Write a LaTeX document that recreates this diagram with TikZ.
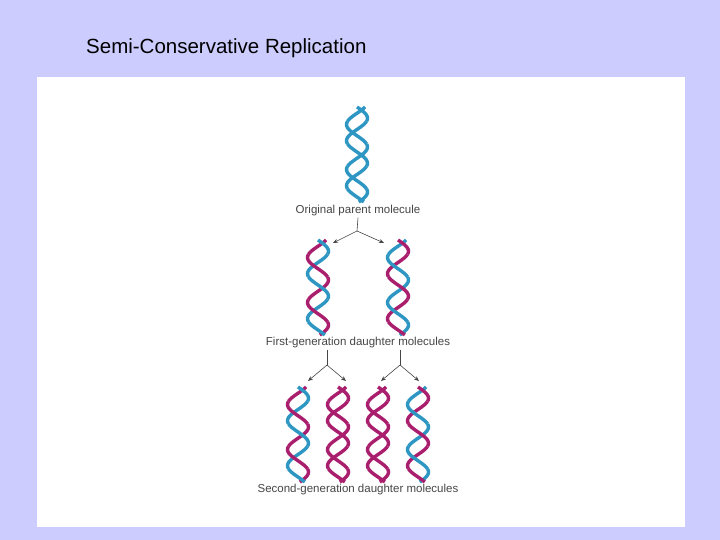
\documentclass[tikz,border=0pt]{standalone}
\usepackage{fontspec}
\setmainfont{Liberation Sans}
\usetikzlibrary{arrows.meta}
\definecolor{bg}{RGB}{204,204,255}
\definecolor{dnab}{RGB}{45,150,195}
\definecolor{dnam}{RGB}{170,30,110}
\definecolor{lbl}{RGB}{70,70,70}
\newcommand{\strandseg}[5]{% cx, ytop, phase, color, k
  \pgfmathsetmacro{\da}{max(0,(#5-0.5)*22.5+3.1)}%
  \pgfmathsetmacro{\db}{min(95,(#5+0.5)*22.5+3.1)}%
  \draw[#4,line width=3.4pt,domain=\da:\db,samples=14,variable=\t,shift={(#1,-#2)}]
    plot ({10.5*sin(8*\t+#3)},{-\t});}
\newcommand{\myhelix}[4]{% cx, ytop, colorA, colorB
  \foreach \k in {0,...,4}{%
    \pgfmathtruncatemacro{\hpar}{mod(\k,2)}%
    \ifnum\hpar=0
      \strandseg{#1}{#2}{130}{#4}{\k}\strandseg{#1}{#2}{0}{#3}{\k}%
    \else
      \strandseg{#1}{#2}{0}{#3}{\k}\strandseg{#1}{#2}{130}{#4}{\k}%
    \fi}}
\tikzset{lab/.style={text=lbl,font=\fontsize{11.5}{13}\selectfont,inner sep=1pt},
  arr/.style={-{Stealth[length=5pt,width=4pt]},line width=0.6pt,lbl}}
\begin{document}
\begin{tikzpicture}[x=1pt,y=1pt]
\fill[bg] (0,0) rectangle (720,-540);
\useasboundingbox (0,0) rectangle (720,-540);
\fill[white] (37,-77) rectangle (685,-527);
\node[anchor=west,font=\fontsize{20.5}{24}\selectfont,inner sep=0pt] (title) at (86,-48) {Semi-Conservative Replication};
\myhelix{357}{107}{dnab}{dnab}
\myhelix{318}{240}{dnab}{dnam}
\myhelix{398}{240}{dnam}{dnab}
\myhelix{298}{387}{dnab}{dnam}
\myhelix{338}{387}{dnam}{dnam}
\myhelix{378}{387}{dnam}{dnam}
\myhelix{418}{387}{dnam}{dnab}
\node[lab] (l1) at (358,-211) {Original parent molecule};
\node[lab] (l2) at (358,-343) {First-generation daughter molecules};
\node[lab] (l3) at (358,-490) {Second-generation daughter molecules};
\coordinate (s1) at (357,-231);
\coordinate (s2) at (327,-365);
\coordinate (s3) at (400,-365);
\coordinate (a) at (333,-243);\coordinate (b) at (384,-243);
\coordinate (c) at (308,-381);\coordinate (d) at (346,-381);
\coordinate (e) at (381,-381);\coordinate (f) at (419,-381);
\draw[line width=0.6pt,lbl] (l1.south) -- (s1);
\draw[arr] (s1) -- (a); \draw[arr] (s1) -- (b);
\draw[line width=0.6pt,lbl] (l2.south -| s2) -- (s2);
\draw[line width=0.6pt,lbl] (l2.south -| s3) -- (s3);
\draw[arr] (s2) -- (c); \draw[arr] (s2) -- (d);
\draw[arr] (s3) -- (e); \draw[arr] (s3) -- (f);
\end{tikzpicture}
\end{document}
